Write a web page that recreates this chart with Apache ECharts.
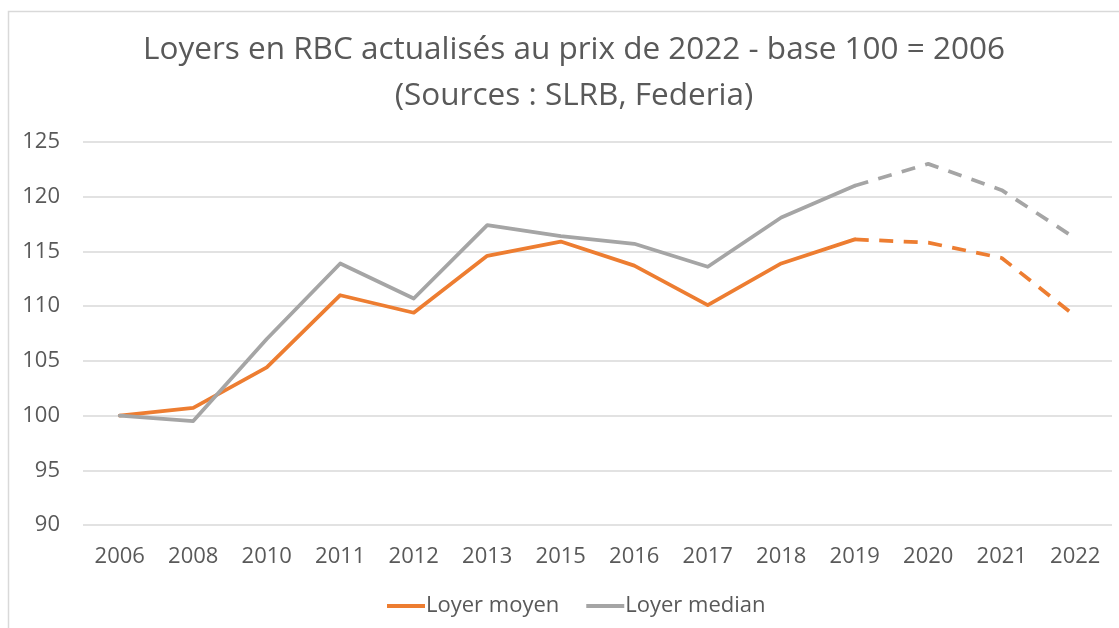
<!DOCTYPE html>
<html>
<head>
<meta charset="utf-8">
<script src="https://cdn.jsdelivr.net/npm/echarts@6/dist/echarts.min.js"></script>
<style>html,body{margin:0;padding:0;background:#fff;}#c{width:1119px;height:628px;}</style>
</head>
<body>
<div id="c"></div>
<script>
const categories = ['2006','2008','2010','2011','2012','2013','2015','2016','2017','2018','2019','2020','2021','2022'];
const loyerMoyen = [100, 100.7, 104.4, 111.0, 109.4, 114.6, 115.9, 113.7, 110.1, 113.9, 116.1, 115.8, 114.4, 109.1];
const loyerMedian = [100, 99.5, 107.0, 113.9, 110.7, 117.4, 116.4, 115.7, 113.6, 118.1, 121.0, 123.0, 120.6, 116.2];
const yTicks = [90, 95, 100, 105, 110, 115, 120, 125];
const splitIndex = 10; // 2019: solid up to here, dashed afterwards

function solidPart(arr){ return arr.map((v,i)=> i<=splitIndex ? v : null); }
function dashPart(arr){ return arr.map((v,i)=> i>=splitIndex ? v : null); }

const FONT = 'Open Sans';
const chart = echarts.init(document.getElementById('c'), null, {renderer:'canvas'});
const orange = '#ED7D31', grey = '#A5A5A5';
function lineSeries(name, data, color, dashed){
  return {
    name, type:'line', data, symbol:'none', smooth:false, connectNulls:false,
    lineStyle:{color, width:3.75, type: dashed ? [14,10.5] : 'solid', cap: dashed ? 'butt' : 'round', join:'round'},
    itemStyle:{color}, emphasis:{disabled:true}, animation:false
  };
}
chart.setOption({
  animation:false,
  backgroundColor:'#fff',
  graphic:[{type:'rect', shape:{x:8.5, y:11.5, width:1200, height:700}, style:{fill:'none', stroke:'#d9d9d9', lineWidth:1.5}, silent:true, z:-1}],
  title:{
    text:'Loyers en RBC actualisés au prix de 2022 - base 100 = 2006\n(Sources : SLRB, Federia)',
    left:569, top:22, textAlign:'center',
    textStyle:{fontFamily:FONT, fontSize:31.5, fontWeight:'normal', color:'#595959', lineHeight:46}
  },
  legend:{
    data:['Loyer moyen','Loyer median'],
    top:590, left:382,
    icon:'rect', itemWidth:38, itemHeight:4, itemGap:27,
    textStyle:{fontFamily:FONT, fontSize:22, color:'#595959', padding:[0,0,0,-4]}
  },
  grid:{left:83, right:7, top:142, bottom:103, containLabel:false},
  xAxis:{
    type:'category', data:categories, boundaryGap:true,
    axisLine:{show:false}, axisTick:{show:false},
    axisLabel:{fontFamily:FONT, fontSize:22, color:'#595959', margin:21}
  },
  yAxis:{
    type:'value', min:yTicks[0], max:yTicks[yTicks.length-1], interval:5,
    axisLine:{show:false}, axisTick:{show:false},
    splitLine:{lineStyle:{color:'#d9d9d9', width:1.5}},
    axisLabel:{fontFamily:FONT, fontSize:22, color:'#595959', margin:23}
  },
  series:[
    lineSeries('Loyer moyen', solidPart(loyerMoyen), orange, false),
    lineSeries('Loyer median', solidPart(loyerMedian), grey, false),
    lineSeries('Loyer moyen', dashPart(loyerMoyen), orange, true),
    lineSeries('Loyer median', dashPart(loyerMedian), grey, true)
  ]
});
</script>
</body>
</html>
